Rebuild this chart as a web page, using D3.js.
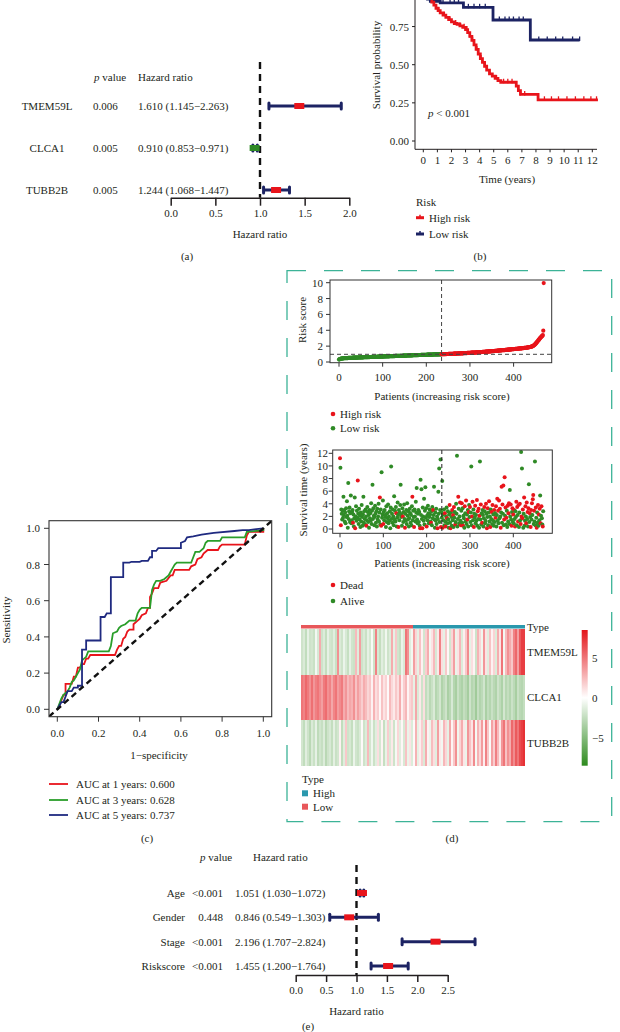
<!DOCTYPE html>
<html><head><meta charset="utf-8">
<script src="https://cdn.jsdelivr.net/npm/d3@7"></script>
<style>
body{margin:0;background:#fff}
svg{display:block}
text{font-family:"Liberation Serif","DejaVu Serif",serif;fill:#231f20;font-size:11px}
</style></head><body>
<svg id="fig" width="620" height="1032"></svg>
<script>
// ---------------- DATA ----------------
// (a) univariate Cox
const forestGenes = ["TMEM59L","CLCA1","TUBB2B"];
const forestP = ["0.006","0.005","0.005"];
const forestHRText = ["1.610 (1.145\u22122.263)","0.910 (0.853\u22120.971)","1.244 (1.068\u22121.447)"];
const forestEst = [1.44, 0.94, 1.18];
const forestLo = [1.10, 0.92, 1.04];
const forestHi = [1.91, 0.97, 1.33];
const forestTicks = [0, 0.5, 1.0, 1.5, 2.0];

// (b) Kaplan-Meier
const kmHighT = [0,0.15,0.3,0.45,0.6,0.75,0.9,1.05,1.2,1.4,1.6,1.8,2.0,2.2,2.4,2.6,2.8,3.0,3.15,3.3,3.45,3.6,3.75,3.9,4.05,4.2,4.35,4.5,4.7,4.9,5.1,5.3,5.5,6.6,6.75,6.9,8.15,12.4];
const kmHighS = [1,0.98,0.96,0.935,0.91,0.89,0.87,0.855,0.84,0.825,0.81,0.795,0.78,0.77,0.765,0.755,0.745,0.73,0.71,0.685,0.66,0.63,0.6,0.57,0.54,0.515,0.49,0.465,0.44,0.425,0.41,0.395,0.385,0.36,0.33,0.305,0.27,0.27];
const kmLowT = [0,0.05,0.15,0.3,0.5,1.2,2.85,4.95,7.6,11.1];
const kmLowS = [1,0.97,0.95,0.93,0.915,0.905,0.876,0.793,0.662,0.662];
const kmHighCens = [1.1,1.5,1.9,2.3,2.6,2.9,3.1,3.3,3.5,3.8,4.1,4.4,4.7,5.2,5.7,6.0,6.3,6.9,7.2,8.6,9.1,9.6,10.2,10.8,11.4,11.9,12.3];
const kmLowCens = [0.7,1.4,1.9,2.2,2.5,3.2,3.6,4.0,4.4,5.4,5.8,6.1,6.4,6.8,7.1,8.2,8.8,9.4,9.9,10.6,11.1];
const kmTimeTicks = [0,1,2,3,4,5,6,7,8,9,10,11,12];
const kmProbTicks = [0,0.25,0.5,0.75];

// (c) time-dependent ROC
const rocLabels = ["AUC at 1 years: 0.600","AUC at 3 years: 0.628","AUC at 5 years: 0.737"];
const roc1Fpr = [0,0.01,0.02,0.03,0.04,0.04,0.07,0.08,0.09,0.1,0.11,0.12,0.13,0.14,0.15,0.16,0.28,0.29,0.30,0.31,0.32,0.33,0.34,0.35,0.37,0.37,0.39,0.40,0.41,0.43,0.44,0.45,0.45,0.46,0.47,0.49,0.50,0.53,0.55,0.56,0.57,0.64,0.65,0.67,0.68,0.70,0.71,0.73,0.78,0.79,0.8,0.91,0.92,0.93,1,1];
const roc1Tpr = [0,0.02,0.05,0.08,0.08,0.14,0.14,0.18,0.18,0.23,0.23,0.25,0.25,0.28,0.28,0.30,0.30,0.33,0.35,0.35,0.39,0.40,0.43,0.44,0.44,0.47,0.49,0.5,0.52,0.53,0.56,0.56,0.62,0.64,0.67,0.67,0.70,0.71,0.74,0.74,0.77,0.77,0.79,0.8,0.83,0.84,0.86,0.88,0.88,0.9,0.91,0.91,0.96,0.98,0.98,1];
const roc3Fpr = [0,0.01,0.02,0.03,0.05,0.06,0.07,0.08,0.09,0.1,0.11,0.12,0.14,0.15,0.25,0.26,0.27,0.29,0.3,0.31,0.33,0.35,0.38,0.39,0.4,0.41,0.45,0.46,0.47,0.48,0.5,0.52,0.54,0.55,0.56,0.57,0.58,0.65,0.66,0.67,0.69,0.71,0.72,0.73,0.79,0.8,0.91,0.92,1,1];
const roc3Tpr = [0,0.03,0.06,0.08,0.1,0.12,0.15,0.16,0.18,0.2,0.22,0.27,0.29,0.32,0.32,0.35,0.42,0.43,0.45,0.46,0.47,0.49,0.49,0.53,0.55,0.56,0.56,0.66,0.69,0.71,0.71,0.72,0.74,0.76,0.78,0.8,0.81,0.81,0.84,0.87,0.87,0.89,0.92,0.93,0.93,0.95,0.95,0.98,0.99,1];
const roc5Fpr = [0,0.01,0.02,0.03,0.04,0.05,0.07,0.08,0.1,0.1,0.12,0.12,0.14,0.14,0.21,0.21,0.23,0.24,0.26,0.26,0.32,0.32,0.35,0.36,0.4,0.41,0.44,0.45,0.46,0.46,0.48,0.49,0.6,0.6,0.62,0.63,0.66,0.7,0.76,0.86,0.9,0.93,1];
const roc5Tpr = [0,0.02,0.04,0.04,0.07,0.1,0.1,0.12,0.12,0.13,0.13,0.33,0.33,0.38,0.38,0.51,0.51,0.53,0.53,0.73,0.73,0.81,0.81,0.815,0.815,0.82,0.82,0.84,0.84,0.875,0.875,0.89,0.89,0.92,0.93,0.95,0.955,0.965,0.975,0.985,0.99,0.99,1];
const rocTicks = [0,0.2,0.4,0.6,0.8,1.0];

// (d) risk score per patient (sorted)
const riskScore = [
0.30,0.34,0.37,0.39,0.41,0.42,0.43,0.44,0.45,0.46,
0.46,0.47,0.47,0.48,0.48,0.49,0.49,0.49,0.50,0.50,
0.50,0.51,0.51,0.51,0.52,0.52,0.52,0.52,0.53,0.53,
0.53,0.53,0.54,0.54,0.54,0.54,0.55,0.55,0.55,0.55,
0.56,0.56,0.56,0.56,0.57,0.57,0.57,0.57,0.58,0.58,
0.58,0.58,0.58,0.59,0.59,0.59,0.59,0.60,0.60,0.60,
0.60,0.60,0.61,0.61,0.61,0.61,0.62,0.62,0.62,0.62,
0.62,0.63,0.63,0.63,0.63,0.64,0.64,0.64,0.64,0.64,
0.65,0.65,0.65,0.65,0.66,0.66,0.66,0.66,0.66,0.67,
0.67,0.67,0.67,0.68,0.68,0.68,0.68,0.68,0.69,0.69,
0.69,0.69,0.70,0.70,0.70,0.70,0.70,0.71,0.71,0.71,
0.71,0.72,0.72,0.72,0.72,0.72,0.73,0.73,0.73,0.73,
0.74,0.74,0.74,0.74,0.74,0.75,0.75,0.75,0.75,0.76,
0.76,0.76,0.76,0.76,0.77,0.77,0.77,0.77,0.78,0.78,
0.78,0.78,0.78,0.79,0.79,0.79,0.79,0.80,0.80,0.80,
0.80,0.80,0.81,0.81,0.81,0.81,0.82,0.82,0.82,0.82,
0.82,0.83,0.83,0.83,0.83,0.84,0.84,0.84,0.84,0.84,
0.85,0.85,0.85,0.85,0.86,0.86,0.86,0.86,0.86,0.87,
0.87,0.87,0.87,0.88,0.88,0.88,0.88,0.88,0.89,0.89,
0.89,0.89,0.90,0.90,0.90,0.90,0.90,0.91,0.91,0.91,
0.91,0.91,0.92,0.92,0.92,0.92,0.92,0.93,0.93,0.93,
0.93,0.93,0.94,0.94,0.94,0.94,0.94,0.95,0.95,0.95,
0.95,0.95,0.95,0.96,0.96,0.96,0.96,0.96,0.96,0.97,
0.97,0.97,0.97,0.97,0.97,
0.98,0.98,0.98,0.98,0.99,0.99,0.99,0.99,1.00,1.00,
1.00,1.00,1.01,1.01,1.01,1.01,1.02,1.02,1.02,1.02,
1.03,1.03,1.03,1.03,1.04,1.04,1.04,1.04,1.05,1.05,
1.05,1.05,1.06,1.06,1.06,1.06,1.07,1.07,1.07,1.08,
1.08,1.08,1.08,1.09,1.09,1.09,1.10,1.10,1.10,1.10,
1.11,1.11,1.11,1.12,1.12,1.12,1.13,1.13,1.13,1.14,
1.14,1.14,1.15,1.15,1.15,1.16,1.16,1.16,1.17,1.17,
1.17,1.18,1.18,1.18,1.19,1.19,1.19,1.20,1.20,1.21,
1.21,1.21,1.22,1.22,1.23,1.23,1.23,1.24,1.24,1.25,
1.25,1.25,1.26,1.26,1.27,1.27,1.28,1.28,1.28,1.29,
1.29,1.30,1.30,1.31,1.31,1.32,1.32,1.32,1.33,1.33,
1.34,1.34,1.35,1.35,1.36,1.36,1.37,1.37,1.38,1.38,
1.39,1.39,1.40,1.40,1.41,1.41,1.42,1.42,1.43,1.43,
1.44,1.44,1.45,1.45,1.46,1.46,1.47,1.47,1.48,1.48,
1.49,1.49,1.50,1.50,1.51,1.51,1.52,1.52,1.53,1.53,
1.54,1.55,1.55,1.56,1.56,1.57,1.57,1.58,1.59,1.59,
1.60,1.61,1.61,1.62,1.62,1.63,1.63,1.64,1.64,1.65,
1.65,1.66,1.66,1.67,1.67,1.68,1.68,1.69,1.70,1.70,
1.71,1.71,1.72,1.73,1.73,1.74,1.75,1.75,1.76,1.77,
1.77,1.78,1.79,1.80,1.80,1.81,1.82,1.83,1.84,1.85,
1.86,1.87,1.88,1.89,1.91,1.92,1.94,1.96,1.98,2.00,
2.04,2.08,2.12,2.17,2.22,2.28,2.34,2.40,2.47,2.54,
2.61,2.68,2.75,2.82,2.89,2.96,3.03,3.09,3.15,3.20,
3.26,3.32,3.40,3.95,9.95];
const riskCutIndex = 235;
const riskCutScore = 0.97;
const riskXTicks = [0,100,200,300,400];
const riskYTicks = [0,2,4,6,8,10];

// survival time per patient (same order)
const survTime = [
11.2,9.7,0.6,3.1,2.4,1.5,2.9,1.8,5.1,2.2,3.0,1.2,2.6,0.9,3.3,1.9,4.4,2.1,0.2,7.3,
1.6,2.8,3.4,1.1,2.5,5.3,0.9,1.4,2.7,3.0,1.0,2.3,0.4,1.7,5.0,0.1,2.0,3.6,1.3,2.9,
1.8,7.7,2.4,0.8,3.2,1.5,2.1,0.3,2.6,1.2,3.8,1.9,0.5,2.3,5.1,1.0,2.8,1.6,0.7,3.1,
2.0,0.5,1.4,3.5,2.7,1.1,2.2,0.2,3.0,1.7,2.5,1.3,4.1,0.8,2.9,7.0,1.6,3.3,2.1,0.6,
1.9,3.7,2.4,1.0,2.8,0.4,3.2,1.5,2.0,4.0,1.2,2.6,5.0,0.7,3.1,0.5,9.0,1.8,2.3,4.5,
0.8,2.7,1.4,3.0,1.9,2.2,0.3,3.6,1.1,2.5,1.7,3.9,0.9,2.0,1.3,2.8,0.1,3.4,9.9,1.6,
2.4,1.0,3.1,2.0,0.6,5.2,1.5,2.9,1.2,3.5,2.5,0.4,1.8,4.2,2.2,0.3,3.0,1.4,2.6,3.8,
7.0,1.9,2.3,0.5,3.3,2.0,1.1,2.7,3.9,1.6,0.2,2.4,1.3,3.0,0.8,4.1,2.1,1.5,2.8,0.4,
1.7,3.2,2.5,1.0,2.2,0.6,3.6,5.1,1.4,2.9,1.9,0.3,3.1,2.0,1.2,4.3,2.6,6.5,1.5,0.9,
2.4,3.0,1.1,2.7,0.5,0.1,7.8,2.2,6.3,1.6,0.1,3.4,2.0,1.3,4.8,0.7,2.9,6.6,1.8,3.3,
0.4,2.1,1.4,3.7,2.5,0.9,1.9,3.1,2.3,1.2,1.0,2.8,0.6,3.5,1.7,3.0,2.2,6.7,1.5,0.2,
2.6,1.3,3.2,0.8,2.0,0.1,1.6,5.9,2.4,9.6,1.1,3.0,11.0,0.3,2.7,1.8,7.6,0.2,2.3,1.4,
3.1,0.6,2.5,1.2,0.4,2.0,3.4,1.7,0.9,2.8,1.5,0.2,2.3,3.8,1.0,0.1,2.6,1.9,0.5,3.0,
1.4,2.2,0.3,3.5,1.8,2.7,0.7,1.1,4.0,2.4,11.6,0.4,1.6,5.1,3.2,0.9,2.0,4.2,1.3,0.6,
2.9,4.1,1.0,3.3,0.5,2.1,1.7,0.2,3.6,2.5,1.2,4.5,0.8,2.3,1.5,3.0,0.4,2.7,3.8,1.9,
3.5,1.1,2.6,9.9,0.6,2.0,4.3,1.4,3.1,0.3,2.4,1.8,3.7,0.9,2.2,1.3,4.6,0.5,2.8,1.6,
3.2,0.2,2.1,10.7,1.5,3.9,0.7,2.5,1.0,3.0,2.2,0.4,1.7,3.5,2.8,0.9,1.3,4.0,2.4,0.1,
1.9,3.3,0.6,2.6,4.4,1.2,2.0,0.3,3.1,1.6,2.7,0.8,3.8,1.4,2.3,0.5,3.0,1.1,2.5,1.8,
3.6,0.4,2.2,4.8,1.3,2.9,0.9,4.5,1.7,3.2,2.0,0.2,2.6,6.7,1.0,3.9,2.4,6.9,0.6,1.5,
8.2,2.1,3.4,0.7,1.8,2.9,0.3,3.7,1.2,2.5,4.1,0.8,6.2,2.0,3.9,1.5,0.5,2.7,3.3,1.1,
2.3,0.9,3.0,1.6,0.4,2.8,1.9,4.3,0.6,3.5,2.2,1.2,3.8,0.3,2.6,4.0,1.4,0.8,12.2,2.0,
9.6,1.7,3.1,0.2,2.4,5.0,0.5,1.3,3.6,2.0,0.9,4.2,1.6,2.7,0.4,3.3,7.1,1.1,2.5,1.9,
0.3,3.0,1.5,4.1,2.2,4.7,5.4,0.8,2.9,1.2,10.7,0.6,3.4,1.8,0.2,2.6,1.0,3.8,0.5,2.3,
1.4,3.2,5.3,0.9,2.1,3.6,1.7,0.7,0.4,2.8];
const deadIdx = [0,2,30,35,41,61,92,95,100,130,135,145,150,167,171,185,190,200,210,215,225,233,237,
242,244,247,253,255,259,261,263,266,273,277,279,281,284,288,291,294,297,300,305,306,309,312,316,318,
320,322,325,328,333,337,339,341,344,347,350,352,356,359,360,363,365,367,369,371,373,375,377,379,
380,382,384,387,389,390,394,396,398,400,402,404,407,409,411,412,415,417,419,421,422,425,428,430,431,433,435,438,
440,441,443,445,446,448,452,454,457,459,461,463,465,468];
const survYTicks = [0,2,4,6,8,10,12];

// heatmap (expression, columns ordered by risk)
const heatGenes = ["TMEM59L","CLCA1","TUBB2B"];
const heatTMEM59L = [-2,-1.5,-2.5,-1,-2,-1.8,-2.2,-0.5,-1.6,3,-2,-1.4,-2.4,-1,-1.8,-2,
-1.2,-2.2,4,-1.5,-2,-0.8,-1.6,-2.3,-1,-1.9,-2.1,2.5,-1.3,3.5,-2,-1.5,
-2.2,-1,-1.7,-0.3,-2,4.5,-1.6,-2.4,-1.2,-1.8,-0.6,-2,-1.4,3,-1,2,
-1.9,-2.3,-0.8,-1.5,5,4,-1.2,-0.5,3.5,1.5,-1,2.2,0.5,-1.8,1.8,3,
-0.5,1,2.5,-1.6,0.8,4.5,1.2,-1,2,0.3,-1.8,1.5,3.5,-0.8,1,2.6,
-1.4,0.6,2,4.2,-1,1.2,0.4,-2,2.8,1.5,-0.6,3.8,1,-1.2,2.2,0.5,
1.6,-1.4,3,1,5,-0.5,2.5,4,3,2,4.5,5.5,3.5,6,7,7];
const heatCLCA1 = [5,4.5,5.5,4.8,4,5.2,3.8,4.6,5,4.2,3.5,4.8,5.3,4,4.5,3.2,
4.4,5,3.6,4.2,4.8,3,3.8,2.5,3.2,2.8,4,2.2,3.5,2.6,1.8,3,
2.4,1.5,2,0.5,2.8,1.2,1.8,0.3,2.2,1,1.6,0.2,2.5,1.4,0.8,2,
1.2,3,0.6,1.8,2.6,0.4,1.5,2,-1,3.2,-1.5,0.8,-2,1.2,-2.5,-1.8,
-2.8,-2.2,-1.5,-3,-2.5,-1.8,-3.2,-2.6,-2,-3.4,-2.8,-1.6,-3,-3.5,-2.2,-2.9,
-3.3,-2.4,-2.8,-3.6,-2,-3,-2.6,-3.8,-2.3,-3.1,-2.7,-1.9,-3.4,-2.5,-3,-2.2,
-2.8,-3.2,-2,-2.6,-3.3,-1.8,-2.9,-2.4,-3,-2.1,-2.7,-3.5,-2.2,-2.8,-3,-2.4];
const heatTUBB2B = [-1.8,-2.5,-1.2,-2,-2.8,-1.5,-2.2,-1,-2.6,-1.9,-2.3,-1.4,-2.8,-2,-1.6,-2.4,
-1.1,-2.2,-1.8,0.5,-2.5,-1.3,2,-2,-1.7,-2.4,-0.8,-1.9,-2.2,-1.5,0.2,-2,
-1.4,2.5,-1.8,-0.6,-2.1,-1.2,1.2,-1.7,0.4,-2.3,-0.9,1.8,-1.5,0.8,-2,-0.4,
1.5,-1.2,0.3,-1.6,2.2,-0.8,1,-1.4,0.2,2.8,-1,0.6,1.8,-1.5,3,0.5,
-0.8,2.4,1.2,-1.2,3.5,0.8,-0.5,2.6,1.5,-1,3.2,0.4,2,4,-0.6,1.6,
3,0.9,-0.8,3.8,2.2,1,4.2,-0.4,2.8,1.4,3.6,0.6,4.5,2,-0.2,3.4,
1.8,4.6,2.5,0.8,3.8,5,2.2,4,3,5.5,4.2,6,5,6.5,7,7.5];
const heatTypes = ["Low","High"];
const heatTypeCounts = [56,56];
const heatLegendTicks = [5,0,-5];

// (e) multivariate Cox
const coxVars = ["Age","Gender","Stage","Riskscore"];
const coxP = ["<0.001","0.448","<0.001","<0.001"];
const coxHRText = ["1.051 (1.030\u22121.072)","0.846 (0.549\u22121.303)","2.196 (1.707\u22122.824)","1.455 (1.200\u22121.764)"];
const coxEst = [1.09, 0.88, 2.30, 1.52];
const coxLo = [1.06, 0.56, 1.75, 1.24];
const coxHi = [1.12, 1.36, 2.95, 1.85];
const coxTicks = [0,0.5,1.0,1.5,2.0,2.5];

// ---------------- STYLE ----------------
const NAVY = "#1c2363", RED = "#e8141b", DGREEN = "#2f8a26", BLUE_ROC = "#1f2a80", GREEN_ROC = "#2a9e2a";
const TEAL = "#2a98ad", SALMON = "#e8575a", BORDER = "#3cb397";
const svg = d3.select("#fig");

function txt(g, x, y, s, opt = {}) {
  const t = g.append("text").attr("x", x).attr("y", y).text(s);
  if (opt.anchor) t.attr("text-anchor", opt.anchor);
  if (opt.size) t.style("font-size", opt.size + "px");
  if (opt.rotate) t.attr("transform", `rotate(-90,${x},${y})`);
  return t;
}
function italicP(g, x, y, rest, anchor) {
  const t = g.append("text").attr("x", x).attr("y", y);
  if (anchor) t.attr("text-anchor", anchor);
  t.append("tspan").style("font-style", "italic").text("p");
  t.append("tspan").text(rest);
  return t;
}
function styleAxis(a, w) {
  a.select(".domain").attr("stroke", "#231f20").attr("stroke-width", w);
  a.selectAll(".tick line").attr("stroke", "#231f20").attr("stroke-width", w);
  a.selectAll("text").attr("fill", "#231f20").style("font-family", '"Liberation Serif",serif').style("font-size", "11px");
}

// ---------------- FOREST PLOT helper ----------------
function forest(o) {
  const g = svg.append("g");
  const x = d3.scaleLinear().domain(o.domain).range(o.range);
  const y = d3.scalePoint().domain(o.names).range(o.yRange);
  italicP(g, o.pX, o.headY, " value");
  txt(g, o.hrHeadX, o.headY, "Hazard ratio");
  o.names.forEach((n, i) => {
    const yy = y(n);
    txt(g, o.labelX, yy + 4, n, {anchor: o.labelAnchor, size: o.fs});
    txt(g, o.pValX, yy + 4, o.p[i], {anchor: o.pValAnchor, size: o.fs});
    txt(g, o.hrX, yy + 4, o.hr[i], {size: o.fs});
  });
  g.append("line").attr("x1", x(1)).attr("x2", x(1)).attr("y1", o.dashTop).attr("y2", o.axisY)
    .attr("stroke", "#111").attr("stroke-width", 2.4).attr("stroke-dasharray", "7,5");
  o.names.forEach((n, i) => {
    const yy = y(n);
    g.append("line").attr("x1", x(o.lo[i])).attr("x2", x(o.hi[i])).attr("y1", yy).attr("y2", yy)
      .attr("stroke", NAVY).attr("stroke-width", 3);
    [o.lo[i], o.hi[i]].forEach(v => g.append("line").attr("x1", x(v)).attr("x2", x(v)).attr("y1", yy - 3).attr("y2", yy + 3)
      .attr("stroke", NAVY).attr("stroke-width", 3).attr("stroke-linecap", "round"));
    g.append("rect").attr("x", x(o.est[i]) - 5).attr("y", yy - 3).attr("width", 10).attr("height", 6)
      .attr("fill", o.boxColor(n));
  });
  const ax = g.append("g").attr("transform", `translate(0,${o.axisY})`)
    .call(d3.axisBottom(x).tickValues(o.ticks).tickFormat(d3.format(".1f")).tickSize(o.tickLen).tickSizeOuter(0).tickPadding(4));
  styleAxis(ax, 1.5);
  txt(g, x(1), o.axisY + 40, "Hazard ratio", {anchor: "middle"});
}

// (a)
forest({names: forestGenes, p: forestP, hr: forestHRText, est: forestEst, lo: forestLo, hi: forestHi, ticks: forestTicks,
  domain: [0, 2], range: [170.7, 349.3], yRange: [106, 190], headY: 81, pX: 94, hrX: 138, hrHeadX: 138, fs: 11,
  labelX: 47, labelAnchor: "middle", pValX: 93, pValAnchor: "start", dashTop: 62, axisY: 197.7, tickLen: 8,
  boxColor: n => n === "CLCA1" ? DGREEN : RED});
txt(svg, 187, 260, "(a)", {anchor: "middle"});

// (e)
forest({names: coxVars, p: coxP, hr: coxHRText, est: coxEst, lo: coxLo, hi: coxHi, ticks: coxTicks,
  domain: [0, 2.5], range: [295.7, 447.7], yRange: [893, 966], headY: 861, pX: 200, hrX: 235, hrHeadX: 253, fs: 11,
  labelX: 185, labelAnchor: "end", pValX: 223, pValAnchor: "end", dashTop: 865, axisY: 975, tickLen: 7,
  boxColor: n => RED});
txt(svg, 308, 1030, "(e)", {anchor: "middle"});

// ---------------- (b) KM ----------------
{
  const g = svg.append("g");
  const x = d3.scaleLinear().domain([0, 12]).range([423.3, 592.3]);
  const y = d3.scaleLinear().domain([0, 1]).range([141, -11.6]);
  const axY = 149.3, axX = 415;
  g.append("line").attr("x1", axX).attr("x2", 597).attr("y1", axY).attr("y2", axY).attr("stroke", "#231f20");
  g.append("line").attr("x1", axX).attr("x2", axX).attr("y1", -5).attr("y2", axY).attr("stroke", "#231f20");
  kmTimeTicks.forEach(t => {
    g.append("line").attr("x1", x(t)).attr("x2", x(t)).attr("y1", axY).attr("y2", axY + 3).attr("stroke", "#231f20");
    txt(g, x(t), axY + 15, String(t), {anchor: "middle"});
  });
  kmProbTicks.forEach(p => {
    g.append("line").attr("x1", axX - 3).attr("x2", axX).attr("y1", y(p)).attr("y2", y(p)).attr("stroke", "#231f20");
    txt(g, axX - 6, y(p) + 4, d3.format(".2f")(p), {anchor: "end"});
  });
  txt(g, 380, 65, "Survival probability", {anchor: "middle", rotate: true});
  txt(g, 507, 183, "Time (years)", {anchor: "middle"});
  italicP(g, 428, 116.5, " < 0.001");
  const line = d3.line().x(d => x(d[0])).y(d => y(d[1])).curve(d3.curveStepAfter);
  const groups = [
    {T: kmLowT, S: kmLowS, C: kmLowCens, col: NAVY},
    {T: kmHighT, S: kmHighS, C: kmHighCens, col: RED}
  ];
  groups.forEach(gr => {
    const pts = gr.T.map((t, i) => [t, gr.S[i]]);
    g.append("path").attr("d", line(pts)).attr("fill", "none").attr("stroke", gr.col).attr("stroke-width", 2.8);
    gr.C.forEach(t => {
      const idx = d3.bisectRight(gr.T, t) - 1;
      const s = gr.S[Math.max(0, idx)];
      g.append("line").attr("x1", x(t)).attr("x2", x(t)).attr("y1", y(s) - 3.5).attr("y2", y(s) + 1)
        .attr("stroke", gr.col).attr("stroke-width", 1.3);
    });
  });
  txt(g, 416, 205.5, "Risk");
  [["High risk", RED, 217.7], ["Low risk", NAVY, 234]].forEach(([lab, col, yy]) => {
    g.append("line").attr("x1", 416).attr("x2", 424).attr("y1", yy).attr("y2", yy).attr("stroke", col).attr("stroke-width", 3);
    g.append("line").attr("x1", 420).attr("x2", 420).attr("y1", yy - 3).attr("y2", yy).attr("stroke", col).attr("stroke-width", 1.5);
    txt(g, 429, yy + 4, lab);
  });
  txt(svg, 480, 260, "(b)", {anchor: "middle"});
}

// ---------------- (c) ROC ----------------
{
  const g = svg.append("g");
  const bx0 = 49, bx1 = 271.7, by0 = 520.7, by1 = 716.7;
  const x = d3.scaleLinear().domain([0, 1]).range([57.3, 263.3]);
  const y = d3.scaleLinear().domain([0, 1]).range([709.3, 528.3]);
  svg.append("clipPath").attr("id", "rocClip").append("rect").attr("x", bx0).attr("y", by0).attr("width", bx1 - bx0).attr("height", by1 - by0);
  const line = d3.line().x(d => x(d[0])).y(d => y(d[1]));
  const curves = [[roc1Fpr, roc1Tpr, RED], [roc3Fpr, roc3Tpr, GREEN_ROC], [roc5Fpr, roc5Tpr, BLUE_ROC]];
  const cg = g.append("g").attr("clip-path", "url(#rocClip)");
  curves.forEach(([fx, ty, col]) => {
    cg.append("path").attr("d", line(fx.map((v, i) => [v, ty[i]]))).attr("fill", "none").attr("stroke", col).attr("stroke-width", 1.8);
  });
  const d0 = x.invert(bx0), d1 = x.invert(bx1);
  cg.append("path").attr("d", line([[d0, d0], [d1, d1]])).attr("stroke", "#111").attr("stroke-width", 2.4).attr("stroke-dasharray", "6,4").attr("fill", "none");
  g.append("rect").attr("x", bx0).attr("y", by0).attr("width", bx1 - bx0).attr("height", by1 - by0)
    .attr("fill", "none").attr("stroke", "#333").attr("stroke-width", 1.1);
  rocTicks.forEach(t => {
    g.append("line").attr("x1", x(t)).attr("x2", x(t)).attr("y1", by1).attr("y2", by1 + 5).attr("stroke", "#333");
    txt(g, x(t), 737, d3.format(".1f")(t), {anchor: "middle"});
    g.append("line").attr("x1", bx0 - 5).attr("x2", bx0).attr("y1", y(t)).attr("y2", y(t)).attr("stroke", "#333");
    txt(g, 40, y(t) + 4, d3.format(".1f")(t), {anchor: "end"});
  });
  txt(g, 10, 620, "Sensitivity", {anchor: "middle", rotate: true});
  txt(g, 159, 759, "1\u2212specificity", {anchor: "middle"});
  rocLabels.forEach((lab, i) => {
    const yy = [784, 800, 815][i];
    g.append("line").attr("x1", 49).attr("x2", 68).attr("y1", yy).attr("y2", yy).attr("stroke", curves[i][2]).attr("stroke-width", 1.8);
    txt(g, 76, yy + 4, lab);
  });
  txt(svg, 147, 842, "(c)", {anchor: "middle"});
}

// ---------------- (d) ----------------
{
  const g = svg.append("g");
  g.append("rect").attr("x", 287).attr("y", 270.7).attr("width", 324.7).attr("height", 551)
    .attr("fill", "none").attr("stroke", BORDER).attr("stroke-width", 1.3).attr("stroke-dasharray", "19,18");

  // risk score plot
  const x = d3.scaleLinear().domain([0, 400]).range([339, 513.6]);
  const y = d3.scaleLinear().domain([0, 10]).range([362, 282.7]);
  const b = {x0: 330, x1: 551.7, y0: 280, y1: 362.7};
  riskScore.forEach((v, i) => {
    g.append("circle").attr("cx", x(i)).attr("cy", y(v)).attr("r", 2.1).attr("fill", i < riskCutIndex ? DGREEN : RED);
  });
  g.append("line").attr("x1", x(riskCutIndex)).attr("x2", x(riskCutIndex)).attr("y1", b.y0).attr("y2", b.y1)
    .attr("stroke", "#444").attr("stroke-dasharray", "4,3");
  g.append("line").attr("x1", b.x0).attr("x2", b.x1).attr("y1", y(riskCutScore)).attr("y2", y(riskCutScore))
    .attr("stroke", "#444").attr("stroke-dasharray", "4,3");
  g.append("rect").attr("x", b.x0).attr("y", b.y0).attr("width", b.x1 - b.x0).attr("height", b.y1 - b.y0)
    .attr("fill", "none").attr("stroke", "#333");
  riskXTicks.forEach(t => {
    g.append("line").attr("x1", x(t)).attr("x2", x(t)).attr("y1", b.y1).attr("y2", b.y1 + 4).attr("stroke", "#333");
    txt(g, x(t), 380.5, String(t), {anchor: "middle"});
  });
  riskYTicks.forEach(t => {
    g.append("line").attr("x1", b.x0 - 4).attr("x2", b.x0).attr("y1", y(t)).attr("y2", y(t)).attr("stroke", "#333");
    txt(g, 323, y(t) + 4, String(t), {anchor: "end"});
  });
  txt(g, 306, 320, "Risk score", {anchor: "middle", rotate: true});
  txt(g, 442, 400, "Patients (increasing risk score)", {anchor: "middle"});
  [["High risk", RED, 414], ["Low risk", DGREEN, 428.3]].forEach(([l, c, yy]) => {
    g.append("circle").attr("cx", 333).attr("cy", yy).attr("r", 2.3).attr("fill", c);
    txt(g, 340, yy + 4, l);
  });

  // survival scatter
  const xs = d3.scaleLinear().domain([0, 400]).range([340, 513.3]);
  const ys = d3.scaleLinear().domain([0, 12]).range([529, 453.3]);
  const bs = {x0: 332.7, x1: 552.3, y0: 450, y1: 533.3};
  const deadSet = new Set(deadIdx);
  survTime.forEach((t, i) => {
    g.append("circle").attr("cx", xs(i)).attr("cy", ys(t)).attr("r", 2.0).attr("fill", deadSet.has(i) ? RED : DGREEN);
  });
  g.append("line").attr("x1", xs(riskCutIndex)).attr("x2", xs(riskCutIndex)).attr("y1", bs.y0).attr("y2", bs.y1)
    .attr("stroke", "#222").attr("stroke-dasharray", "4,3");
  g.append("rect").attr("x", bs.x0).attr("y", bs.y0).attr("width", bs.x1 - bs.x0).attr("height", bs.y1 - bs.y0)
    .attr("fill", "none").attr("stroke", "#333");
  riskXTicks.forEach(t => {
    g.append("line").attr("x1", xs(t)).attr("x2", xs(t)).attr("y1", bs.y1).attr("y2", bs.y1 + 4).attr("stroke", "#333");
    txt(g, xs(t), 549, String(t), {anchor: "middle"});
  });
  survYTicks.forEach(t => {
    g.append("line").attr("x1", bs.x0 - 4).attr("x2", bs.x0).attr("y1", ys(t)).attr("y2", ys(t)).attr("stroke", "#333");
    txt(g, 328, ys(t) + 4, String(t), {anchor: "end"});
  });
  txt(g, 307, 490, "Survival time (years)", {anchor: "middle", rotate: true});
  txt(g, 442, 567, "Patients (increasing risk score)", {anchor: "middle"});
  [["Dead", RED, 585], ["Alive", DGREEN, 601]].forEach(([l, c, yy]) => {
    g.append("circle").attr("cx", 333).attr("cy", yy).attr("r", 2.3).attr("fill", c);
    txt(g, 340, yy + 4, l);
  });

  // heatmap
  const nCol = heatTMEM59L.length;
  const hx = d3.scaleBand().domain(d3.range(nCol)).range([301, 525]);
  const hy = d3.scaleBand().domain(heatGenes).range([629, 765.7]);
  const color = d3.scaleLinear().domain([-8.5, 0, 8.5]).range(["#2d8a1e", "#ffffff", "#e3151a"]);
  const rows = [heatTMEM59L, heatCLCA1, heatTUBB2B];
  rows.forEach((vals, r) => {
    vals.forEach((v, c) => {
      g.append("rect").attr("x", hx(c)).attr("y", hy(heatGenes[r])).attr("width", hx.bandwidth() + 0.2)
        .attr("height", hy.bandwidth()).attr("fill", color(v)).attr("shape-rendering", "crispEdges");
    });
    txt(g, 527, hy(heatGenes[r]) + hy.bandwidth() / 2 + 4, heatGenes[r]);
  });
  let c0 = 0;
  heatTypes.forEach((t, i) => {
    const n = heatTypeCounts[i];
    g.append("rect").attr("x", hx(c0)).attr("y", 625).attr("width", hx.bandwidth() * n).attr("height", 3.5)
      .attr("fill", t === "Low" ? SALMON : TEAL);
    c0 += n;
  });
  txt(g, 527, 630.5, "Type");
  const ly = d3.scaleLinear().domain([-8.5, 8.5]).range([765.7, 630]);
  const grad = svg.append("defs").append("linearGradient").attr("id", "hg").attr("x1", 0).attr("x2", 0).attr("y1", 0).attr("y2", 1);
  d3.range(0, 1.0001, 0.05).forEach(f => {
    grad.append("stop").attr("offset", f).attr("stop-color", color(8.5 - 17 * f));
  });
  g.append("rect").attr("x", 581.7).attr("y", 630).attr("width", 6).attr("height", 135.7).attr("fill", "url(#hg)");
  heatLegendTicks.forEach(t => txt(g, 592, ly(t) + 4, t < 0 ? "\u2212" + Math.abs(t) : String(t)));
  txt(g, 302, 783, "Type");
  [["High", TEAL, 793.3], ["Low", SALMON, 806.7]].forEach(([l, c, yy]) => {
    g.append("rect").attr("x", 302).attr("y", yy - 3).attr("width", 6).attr("height", 6).attr("fill", c);
    txt(g, 313, yy + 4, l);
  });
  txt(svg, 452, 842, "(d)", {anchor: "middle"});
}
</script></body></html>
